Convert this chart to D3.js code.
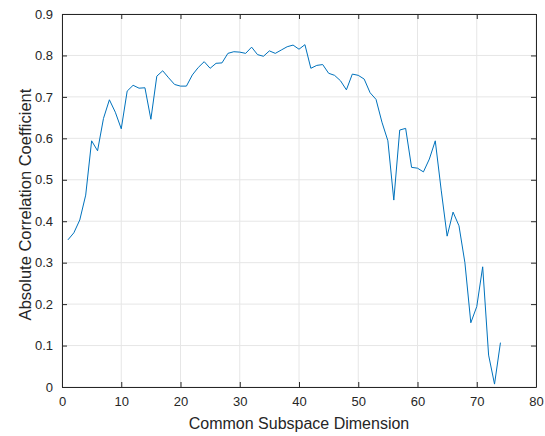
<!DOCTYPE html>
<html>
<head>
<meta charset="utf-8">
<script src="https://cdn.jsdelivr.net/npm/d3@7"></script>
<style>
  body { margin: 0; background: #fff; }
  svg text { font-family: "Liberation Sans", Arial, sans-serif; fill: #262626; }
</style>
</head>
<body>
<div id="d3-container"></div>
<script>
/**
 * DATA
 * */
const dims = d3.range(1, 75); // 1..74
const corr = [
  0.355, 0.372, 0.403, 0.463, 0.594, 0.570, 0.648, 0.693, 0.663, 0.623,
  0.714, 0.728, 0.721, 0.722, 0.646, 0.750, 0.763, 0.746, 0.730, 0.726,
  0.726, 0.753, 0.771, 0.785, 0.769, 0.781, 0.782, 0.805, 0.809, 0.808,
  0.805, 0.820, 0.802, 0.798, 0.811, 0.805, 0.813, 0.821, 0.825, 0.815,
  0.826, 0.769, 0.776, 0.778, 0.757, 0.752, 0.739, 0.717, 0.755, 0.752,
  0.743, 0.710, 0.694, 0.639, 0.594, 0.451, 0.620, 0.624, 0.530, 0.528,
  0.519, 0.550, 0.594, 0.475, 0.364, 0.422, 0.389, 0.300, 0.155, 0.194,
  0.290, 0.077, 0.007, 0.107
];
const xTicks = [0, 10, 20, 30, 40, 50, 60, 70, 80];
const yTicks = [0, 0.1, 0.2, 0.3, 0.4, 0.5, 0.6, 0.7, 0.8, 0.9];

/**
 * CONSTANTS
 * */
const width = 545,
  height = 436,
  margin = { top: 14, bottom: 49, left: 62, right: 9 };
const tickLen = 5;

const svg = d3.select("#d3-container")
  .append("svg")
  .attr("width", width)
  .attr("height", height);

const x = d3.scaleLinear()
  .domain([0, 80])
  .range([margin.left, width - margin.right]);
const y = d3.scaleLinear()
  .domain([0, 0.9])
  .range([height - margin.bottom, margin.top]);

// grid lines
svg.append("g")
  .selectAll("line.vgrid")
  .data(xTicks)
  .join("line")
  .attr("class", "vgrid")
  .attr("x1", d => x(d)).attr("x2", d => x(d))
  .attr("y1", y(0)).attr("y2", y(0.9))
  .attr("stroke", "#e6e6e6")
  .attr("stroke-width", 1);
svg.append("g")
  .selectAll("line.hgrid")
  .data(yTicks)
  .join("line")
  .attr("class", "hgrid")
  .attr("x1", x(0)).attr("x2", x(80))
  .attr("y1", d => y(d)).attr("y2", d => y(d))
  .attr("stroke", "#e6e6e6")
  .attr("stroke-width", 1);

// data line
const line = d3.line()
  .x((d, i) => x(dims[i]))
  .y(d => y(d));
svg.append("path")
  .datum(corr)
  .attr("fill", "none")
  .attr("stroke", "#0072BD")
  .attr("stroke-width", 1)
  .attr("stroke-linejoin", "round")
  .attr("d", line);

// axes (MATLAB-like box with inward ticks)
const axisColor = "#262626";
function styleAxis(g) {
  g.select(".domain").attr("stroke", axisColor);
  g.selectAll(".tick line").attr("stroke", axisColor);
  g.selectAll(".tick text")
    .attr("font-size", 13)
    .attr("fill", axisColor)
    .style("font-family", "'Liberation Sans', Arial, sans-serif");
}

svg.append("g")
  .attr("transform", `translate(0,${y(0)})`)
  .call(d3.axisBottom(x).tickValues(xTicks).tickSizeInner(-tickLen).tickSizeOuter(0).tickPadding(10))
  .call(styleAxis);
svg.append("g")
  .attr("transform", `translate(0,${y(0.9)})`)
  .call(d3.axisTop(x).tickValues(xTicks).tickSizeInner(-tickLen).tickSizeOuter(0).tickFormat(""))
  .call(styleAxis);
svg.append("g")
  .attr("transform", `translate(${x(0)},0)`)
  .call(d3.axisLeft(y).tickValues(yTicks).tickSizeInner(-tickLen).tickSizeOuter(0).tickPadding(9)
    .tickFormat(d => d === 0 ? "0" : d3.format(".1f")(d)))
  .call(styleAxis);
svg.append("g")
  .attr("transform", `translate(${x(80)},0)`)
  .call(d3.axisRight(y).tickValues(yTicks).tickSizeInner(-tickLen).tickSizeOuter(0).tickFormat(""))
  .call(styleAxis);

// axis labels
svg.append("text")
  .attr("x", (x(0) + x(80)) / 2)
  .attr("y", 429)
  .attr("text-anchor", "middle")
  .attr("font-size", 16)
  .text("Common Subspace Dimension");
svg.append("text")
  .attr("transform", `translate(31,${(y(0) + y(0.9)) / 2 + 4}) rotate(-90)`)
  .attr("text-anchor", "middle")
  .attr("font-size", 16.5)
  .text("Absolute Correlation Coefficient");
</script>
</body>
</html>
